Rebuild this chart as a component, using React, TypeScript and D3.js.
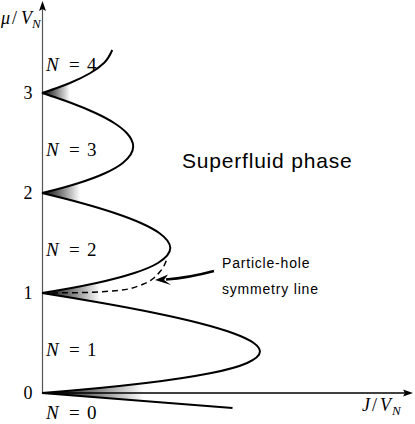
import React from "react";
import * as d3 from "d3";

// Mott lobe boundaries: chemical potential mu/V_N and hopping J/V_N
const lobe1Mu = [0, 0.02, 0.05, 0.1, 0.2, 0.3, 0.414, 0.5, 0.6, 0.7, 0.8, 0.9, 0.95, 1.0];
const lobe1J = [0, 0.0192, 0.0452, 0.0818, 0.1333, 0.1615, 0.1716, 0.1667, 0.15, 0.1235, 0.0889, 0.0474, 0.0244, 0];
const lobe2Mu = [1, 1.02, 1.05, 1.1, 1.2, 1.3, 1.449, 1.6, 1.7, 1.8, 1.9, 1.95, 2];
const lobe2J = [0, 0.0097, 0.0232, 0.0429, 0.0727, 0.0913, 0.101, 0.0923, 0.0778, 0.0571, 0.031, 0.0161, 0];
const lobe3Mu = [2, 2.02, 2.05, 2.1, 2.2, 2.3, 2.464, 2.6, 2.7, 2.8, 2.9, 2.95, 3];
const lobe3J = [0, 0.0065, 0.0156, 0.029, 0.05, 0.0636, 0.0718, 0.0667, 0.0568, 0.0421, 0.0231, 0.012, 0];
const lobe4Mu = [3, 3.02, 3.05, 3.1, 3.2, 3.3, 3.43];
const lobe4J = [0, 0.0049, 0.0117, 0.022, 0.0381, 0.0488, 0.0553];
const lobe0Mu = [0, -0.15];
const lobe0J = [0, 0.15];

// particle-hole symmetry line (dashed)
const symMu = [1.0, 1.002, 1.008, 1.02, 1.04, 1.08, 1.13, 1.2, 1.27, 1.36];
const symJ = [0, 0.02, 0.04, 0.055, 0.068, 0.078, 0.086, 0.092, 0.096, 0.099];

// shaded wedges at the cusps: cusp mu and extent in J
const cuspMu = [0, 1, 2, 3];
const cuspJ = [0.08, 0.046, 0.03, 0.022];

const muTicks = [0, 1, 2, 3];
const lobeLabels = ["0", "1", "2", "3", "4"];
const lobeLabelMu = [-0.2, 0.43, 1.43, 2.43, 3.28];

const W = 415;
const H = 424;

export default function App() {
  const x = d3.scaleLinear().domain([0, 0.2921]).range([42, 413]);
  const y = d3.scaleLinear().domain([0, 3]).range([393, 93]);

  const toPts = (J: number[], M: number[]) => J.map((j, i) => [j, M[i]] as [number, number]);
  const line = d3
    .line<[number, number]>()
    .x((d) => x(d[0]))
    .y((d) => y(d[1]))
    .curve(d3.curveMonotoneY);
  const lineX = d3
    .line<[number, number]>()
    .x((d) => x(d[0]))
    .y((d) => y(d[1]))
    .curve(d3.curveMonotoneX);
  const straight = d3
    .line<[number, number]>()
    .x((d) => x(d[0]))
    .y((d) => y(d[1]));

  const lobes = [
    toPts(lobe1J, lobe1Mu),
    toPts(lobe2J, lobe2Mu),
    toPts(lobe3J, lobe3Mu),
  ];
  const lobe4 = toPts(lobe4J, lobe4Mu);
  const lobe0 = toPts(lobe0J, lobe0Mu);

  const lobe4Fill = (line(lobe4) || "") + `L${x(0)},${y(lobe4Mu[lobe4Mu.length - 1])}Z`;
  const lobe0Fill =
    straight(lobe0) +
    `L${x(lobe0J[1])},${y(-0.4)}L${x(0)},${y(-0.4)}Z`;

  const x0 = x(0);
  const y0 = y(0);

  // arrow annotation anchors (data units)
  const tail: [number, number] = [0.1346, 1.22];
  const head: [number, number] = [0.089, 1.13];
  const tx = x(tail[0]);
  const ty = y(tail[1]);
  const hx = x(head[0]);
  const hy = y(head[1]);

  const serif = "'Liberation Serif', 'DejaVu Serif', serif";
  const sans = "'Liberation Sans', Arial, sans-serif";

  return (
    <svg
      width={W}
      height={H}
      style={{ position: "absolute", left: 0, top: 0, background: "#fff" }}
    >
      <defs>
        {cuspMu.map((m, i) => (
          <linearGradient
            key={i}
            id={`g${i}`}
            gradientUnits="userSpaceOnUse"
            x1={x(0)}
            x2={x(cuspJ[i])}
            y1={0}
            y2={0}
          >
            <stop offset="0" stopColor="#000" />
            <stop offset="0.35" stopColor="#555" />
            <stop offset="1" stopColor="#fff" />
          </linearGradient>
        ))}
      </defs>

      {/* gradient wedges */}
      {cuspMu.map((m, i) => (
        <rect
          key={i}
          x={x(0)}
          width={x(cuspJ[i]) - x(0)}
          y={y(m + 0.3)}
          height={y(m - 0.3) - y(m + 0.3)}
          fill={`url(#g${i})`}
        />
      ))}

      {/* lobe interiors (white) */}
      {lobes.map((p, i) => (
        <path key={i} d={(line(p) || "") + "Z"} fill="#fff" stroke="none" />
      ))}
      <path d={lobe4Fill} fill="#fff" />
      <path d={lobe0Fill} fill="#fff" />
      <rect x={0} y={y(3.3)} width={x(0)} height={y(-0.35) - y(3.3)} fill="#fff" />

      {/* axes */}
      <line x1={x0 + 0.5} x2={x0 + 0.5} y1={y0} y2={8} stroke="#555" strokeWidth={1.2} />
      <path d={`M${x0 + 0.5},1 L${x0 - 3},11 L${x0 + 0.5},9 L${x0 + 4},11 Z`} fill="#000" />
      <line x1={x0} x2={x(0.2921) - 6} y1={y0} y2={y0} stroke="#000" strokeWidth={1.3} />
      <path
        d={`M${x(0.2921)},${y0} L${x(0.2921) - 10},${y0 - 3.5} L${x(0.2921) - 8},${y0} L${x(0.2921) - 10},${y0 + 3.5} Z`}
        fill="#000"
      />

      {/* lobe boundaries */}
      {lobes.map((p, i) => (
        <path key={i} d={line(p) || ""} fill="none" stroke="#000" strokeWidth={2} />
      ))}
      <path d={line(lobe4) || ""} fill="none" stroke="#000" strokeWidth={2} />
      <path d={straight(lobe0) || ""} fill="none" stroke="#000" strokeWidth={2} />

      {/* symmetry line */}
      <path
        d={lineX(toPts(symJ, symMu)) || ""}
        fill="none"
        stroke="#000"
        strokeWidth={1.5}
        strokeDasharray="6,4"
      />

      {/* arrow */}
      <path
        d={`M${tx + 1},${ty} Q${tx - 25},${ty + 7} ${hx + 11},${hy - 0.5}`}
        fill="none"
        stroke="#000"
        strokeWidth={2.4}
      />
      <path
        d={`M${tx + 2},${ty - 1.5} L${tx - 8},${ty + 3} L${tx - 2},${ty + 1}Z`}
        fill="#000"
      />
      <path
        d={`M${hx},${hy} L${hx + 13},${hy - 5.5} L${hx + 9},${hy} L${hx + 16},${hy + 5} Z`}
        fill="#000"
      />

      {/* tick labels */}
      {muTicks.map((t) => (
        <text
          key={t}
          x={28}
          y={y(t) + 6}
          textAnchor="middle"
          fontFamily={serif}
          fontSize={18}
        >
          {t}
        </text>
      ))}

      {/* lobe labels */}
      {lobeLabels.map((l, i) => {
        const bx = 46;
        const by = y(lobeLabelMu[i]) + 6;
        return (
          <g key={i} fontFamily={serif} fontSize={19}>
            <text x={bx} y={by} fontStyle="italic">N</text>
            <text x={bx + 23} y={by}>=</text>
            <text x={bx + 41} y={by}>{l}</text>
          </g>
        );
      })}

      {/* axis labels */}
      <g fontFamily={serif} fontSize={18}>
        <text x={1} y={24} fontStyle="italic">μ</text>
        <text x={12} y={24}>/</text>
        <text x={21} y={24} fontStyle="italic">V</text>
        <text x={32} y={28} fontStyle="italic" fontSize={13}>N</text>
      </g>
      <g fontFamily={serif} fontSize={18}>
        <text x={362} y={411} fontStyle="italic">J</text>
        <text x={372} y={411}>/</text>
        <text x={380} y={411} fontStyle="italic">V</text>
        <text x={392} y={415} fontStyle="italic" fontSize={13}>N</text>
      </g>

      {/* annotations */}
      <text x={182} y={168} fontFamily={sans} fontSize={21} letterSpacing={0.8}>
        Superfluid phase
      </text>
      <text x={222} y={268} fontFamily={sans} fontSize={14} letterSpacing={0.8}>
        Particle-hole
      </text>
      <text x={222} y={294} fontFamily={sans} fontSize={14} letterSpacing={0.8}>
        symmetry line
      </text>
    </svg>
  );
}
